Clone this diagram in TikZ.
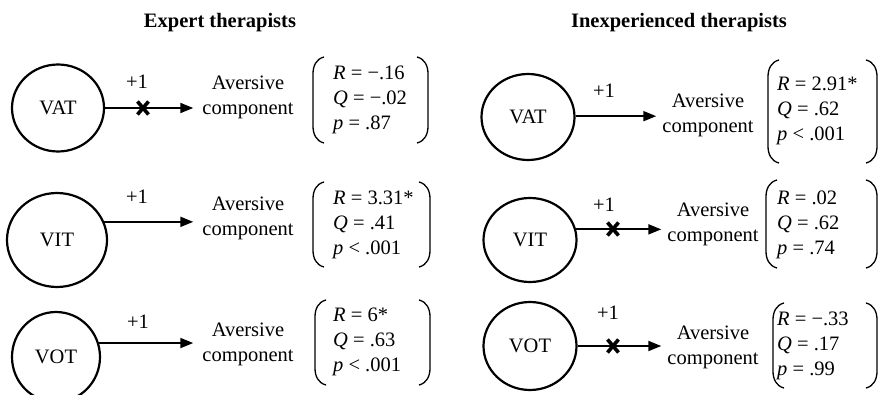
\documentclass[tikz,border=0pt]{standalone}
\usepackage{fontspec}
\setmainfont{Liberation Serif}
\usetikzlibrary{shapes.geometric,arrows.meta}
\newcommand\drawbrackets[4]{%
  \draw[brk] (#1+11,#3) .. controls (#1+3,#3+2) and (#1,#3+9) .. (#1,#3+17) -- (#1,#4-17) .. controls (#1,#4-9) and (#1+3,#4-2) .. (#1+11,#4);
  \draw[brk] (#2-11,#3) .. controls (#2-3,#3+2) and (#2,#3+9) .. (#2,#3+17) -- (#2,#4-17) .. controls (#2,#4-9) and (#2-3,#4-2) .. (#2-11,#4);}
\newcommand\xcross[1]{%
  \draw[xm] (#1) +(-5.5,-6.5) -- +(5.5,6.5) +(-5.5,6.5) -- +(5.5,-6.5);}
\begin{document}
\begin{tikzpicture}[x=1pt,y=-1pt,
  every node/.style={font=\fontsize{20.5}{25}\selectfont},
  var/.style={ellipse,draw,line width=2.2pt,inner sep=0pt},
  lbl/.style={align=center,inner xsep=9pt,inner ysep=0pt},
  lblr/.style={align=center,inner xsep=6pt,inner ysep=0pt},
  stats/.style={align=left,anchor=west,inner sep=0pt},
  arr/.style={line width=1.9pt,-{Triangle[length=13pt,width=10pt]}},
  xm/.style={line width=3.6pt},
  brk/.style={line width=1.3pt},
  ttl/.style={font=\fontsize{20.5}{25}\selectfont\bfseries}]
\useasboundingbox (0,0) rectangle (880,395);

% titles
\node[ttl] (t1) at (220,23) {Expert therapists};
\node[ttl] (t2) at (679,23) {Inexperienced therapists};

% ---------- left column ----------
\node[var,minimum width=92,minimum height=87] (l1) at (58,108) {VAT};
\node[var,minimum width=100,minimum height=94] (l2) at (57,240) {VIT};
\node[var,minimum width=88,minimum height=90] (l3) at (56,357) {VOT};

\node[lbl] (a1) at (248,97.5) {Aversive\\component};
\node[lbl] (a2) at (248,218.5) {Aversive\\component};
\node[lbl] (a3) at (248,344.5) {Aversive\\component};

\draw[arr] (l1.east) -- (l1.east -| a1.west);
\draw[arr] (l2.21.3) -- (l2.21.3 -| a2.west);
\draw[arr] (l3.18.6) -- (l3.18.6 -| a3.west);

\node (p1) at (137,82) {+1};
\node (p2) at (137,197) {+1};
\node (p3) at (138,322) {+1};

\coordinate (x1) at (143,108);
\xcross{x1}

\node[stats] (s1) at (333,100) {\textit{R} = −.16\\\textit{Q} = −.02\\\textit{p} = .87};
\node[stats] (s2) at (333,225) {\textit{R} = 3.31*\\\textit{Q} = .41\\\textit{p} < .001};
\node[stats] (s3) at (333,342) {\textit{R} = 6*\\\textit{Q} = .63\\\textit{p} < .001};
\drawbrackets{313}{428}{57}{143}
\drawbrackets{313}{430}{182}{267}
\drawbrackets{315}{430}{300}{385}

% ---------- right column ----------
\node[var,minimum width=93,minimum height=86] (r1) at (528,117) {VAT};
\node[var,minimum width=93,minimum height=84] (r2) at (530,240) {VIT};
\node[var,minimum width=93,minimum height=88] (r3) at (530,346) {VOT};

\node[lblr] (b1) at (708,115) {Aversive\\component};
\node[lblr] (b2) at (713,224.5) {Aversive\\component};
\node[lblr] (b3) at (713,347.5) {Aversive\\component};

\draw[arr] (r1.1.5) -- (r1.1.5 -| b1.west);
\draw[arr] (r2.13.8) -- (r2.13.8 -| b2.west);
\draw[arr] (r3.east) -- (r3.east -| b3.west);

\node (q1) at (604,91) {+1};
\node (q2) at (604,205) {+1};
\node (q3) at (608,313) {+1};

\coordinate (x2) at (613,229);
\coordinate (x3) at (613,346);
\xcross{x2}
\xcross{x3}

\node[stats] (u1) at (777,111) {\textit{R} = 2.91*\\\textit{Q} = .62\\\textit{p} < .001};
\node[stats] (u2) at (777,225) {\textit{R} = .02\\\textit{Q} = .62\\\textit{p} = .74};
\node[stats] (u3) at (777,346) {\textit{R} = −.33\\\textit{Q} = .17\\\textit{p} = .99};
\drawbrackets{768}{877}{60}{163}
\drawbrackets{766}{877}{180}{268}
\drawbrackets{773}{877}{303}{388}
\end{tikzpicture}
\end{document}
